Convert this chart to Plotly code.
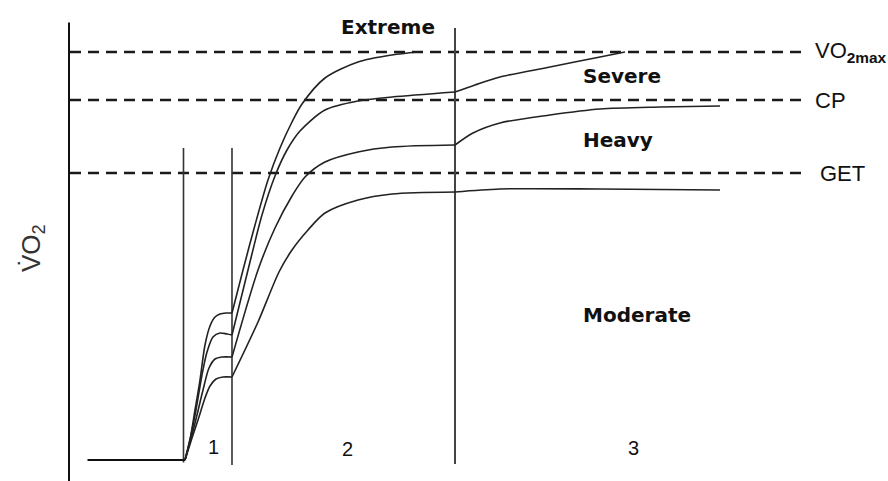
import plotly.graph_objects as go

# ---------------- data (time in s from exercise onset, VO2 in arbitrary units) ----------------
baseline_t = [-65, 0]
baseline_v = [0, 0]

phase_bounds_t = [0, 31.33, 180]          # onset, end of phase 1, end of phase 2
phase_labels = ["1", "2", "3"]

threshold_names = ["VO<sub><b>2max</b></sub>", "CP", "GET"]
threshold_v = [102, 90, 71.75]

domain_labels = ["Extreme", "Severe", "Heavy", "Moderate"]

# Extreme
ext_p1_t = [0, 3.33, 6.67, 10, 13.33, 16.67, 20, 23.33, 27.33, 31.33]
ext_p1_v = [0, 5, 12.5, 20, 28.75, 33.5, 35.75, 36.5, 36.75, 36.75]
ext_p2_t = [31.33, 38.67, 46.67, 55.33, 63.33, 71.33, 78, 93.33, 115.33, 138, 155.33]
ext_p2_v = [36.75, 47.5, 58.75, 70, 78, 84.5, 89, 95.5, 99.5, 101.25, 102]

# Severe
sev_p1_t = [0, 4, 7.33, 11.33, 14.67, 18.67, 23.33, 28, 31.33]
sev_p1_v = [0, 6.25, 12.5, 21.25, 27, 30.75, 31.75, 31.5, 31.25]
sev_p2_t = [31.33, 42, 51.33, 60, 68, 76.67, 93.33, 115.33, 138, 180]
sev_p2_v = [31.25, 47.5, 61.25, 71, 77.5, 82.25, 87.5, 89.75, 90.75, 92]
sev_p3_t = [180, 193.33, 210, 243.33, 276.67, 293.33]
sev_p3_v = [92, 93.75, 95.75, 98.25, 100.75, 102]

# Heavy
hev_p1_t = [0, 4.67, 8, 12, 16, 20, 24.67, 31.33]
hev_p1_v = [0, 6.25, 11.25, 17.5, 23, 25.25, 25.75, 25.75]
hev_p2_t = [31.33, 48.67, 60, 71.33, 80, 93.33, 115.33, 138, 180]
hev_p2_v = [25.75, 47.5, 58, 66, 70.75, 74.5, 77, 78.25, 78.75]
hev_p3_t = [180, 192, 210, 243.33, 276.67, 316.67, 356.67]
hev_p3_v = [78.75, 81.75, 84.25, 86.25, 87.75, 88.25, 88.5]

# Moderate
mod_p1_t = [0, 4.67, 8.67, 13.33, 16.67, 20.67, 25.33, 31.33]
mod_p1_v = [0, 5.5, 10, 15.5, 18.5, 20.25, 20.75, 20.75]
mod_p2_t = [31.33, 48.67, 62.67, 71.33, 82, 93.33, 115.33, 138, 180]
mod_p2_v = [20.75, 34.5, 47, 52.5, 57.5, 61.75, 65, 66.5, 67]
mod_p3_t = [180, 210, 276.67, 356.67]
mod_p3_v = [67, 67.75, 67.75, 67.5]

# ---------------- figure ----------------
X_RANGE = [-123.33, 468.67]
Y_RANGE = [-5.25, 115]
CURVE = "#222222"

fig = go.Figure()

segments = [
    (ext_p1_t, ext_p1_v), (ext_p2_t, ext_p2_v),
    (sev_p1_t, sev_p1_v), (sev_p2_t, sev_p2_v), (sev_p3_t, sev_p3_v),
    (hev_p1_t, hev_p1_v), (hev_p2_t, hev_p2_v), (hev_p3_t, hev_p3_v),
    (mod_p1_t, mod_p1_v), (mod_p2_t, mod_p2_v), (mod_p3_t, mod_p3_v),
]

# threshold dashed lines
for v in threshold_v:
    fig.add_trace(go.Scatter(x=[-76.67, 412], y=[v, v], mode="lines",
                             line=dict(color="#1a1a1a", width=2.6, dash="11px,7px"),
                             hoverinfo="skip", showlegend=False))

# y axis line
fig.add_trace(go.Scatter(x=[-77.33, -77.33], y=[Y_RANGE[0], 109.4], mode="lines",
                         line=dict(color="#111111", width=2), hoverinfo="skip", showlegend=False))

# phase boundaries
fig.add_trace(go.Scatter(x=[phase_bounds_t[0] - 1] * 2, y=[78, -0.6], mode="lines",
                         line=dict(color="#333333", width=1.6), hoverinfo="skip", showlegend=False))
fig.add_trace(go.Scatter(x=[phase_bounds_t[1]] * 2, y=[78, -1.25], mode="lines",
                         line=dict(color="#333333", width=1.6), hoverinfo="skip", showlegend=False))
fig.add_trace(go.Scatter(x=[phase_bounds_t[2]] * 2, y=[108, -1.0], mode="lines",
                         line=dict(color="#444444", width=2), hoverinfo="skip", showlegend=False))

# baseline
fig.add_trace(go.Scatter(x=baseline_t, y=baseline_v, mode="lines",
                         line=dict(color="#111111", width=2.2), hoverinfo="skip", showlegend=False))

for t, v in segments:
    fig.add_trace(go.Scatter(x=t, y=v, mode="lines",
                             line=dict(color=CURVE, width=1.6, shape="spline", smoothing=0.8),
                             hoverinfo="skip", showlegend=False))

ann = []
bold = dict(family="DejaVu Sans", size=20, color="#111111", weight="bold")
label_pos = [(135.33, 108.25), (291.33, 96), (288.67, 80), (301.33, 36.25)]
for name, (x, y) in zip(domain_labels, label_pos):
    ann.append(dict(x=x, y=y, text=name, showarrow=False, font=bold,
                    xanchor="center", yanchor="middle"))

thr_x = [418.67, 418.67, 422]
for name, v, x in zip(threshold_names, threshold_v, thr_x):
    ann.append(dict(x=x, y=v, text=name, showarrow=False,
                    font=dict(family="Liberation Sans", size=22, color="#111111"),
                    xanchor="left", yanchor="middle"))

phase_lab_pos = [(18.67, 3.25), (108, 2.75), (299.33, 3)]
for name, (x, y) in zip(phase_labels, phase_lab_pos):
    ann.append(dict(x=x, y=y, text=name, showarrow=False,
                    font=dict(family="Liberation Sans", size=20, color="#111111"),
                    xanchor="center", yanchor="middle"))

ann.append(dict(x=-102, y=53, text="V\u0307O<sub>2</sub>", textangle=-90, showarrow=False,
                font=dict(family="Liberation Sans", size=26, color="#333333"),
                xanchor="center", yanchor="middle"))

fig.update_layout(
    width=888, height=481,
    margin=dict(l=0, r=0, t=0, b=0),
    paper_bgcolor="white", plot_bgcolor="white",
    xaxis=dict(range=X_RANGE, visible=False, fixedrange=True),
    yaxis=dict(range=Y_RANGE, visible=False, fixedrange=True),
    annotations=ann,
    showlegend=False,
)

fig.write_html("out.html",
               config={"displayModeBar": False, "staticPlot": True},
               post_script="document.body.style.margin='0';document.body.style.overflow='hidden';")
